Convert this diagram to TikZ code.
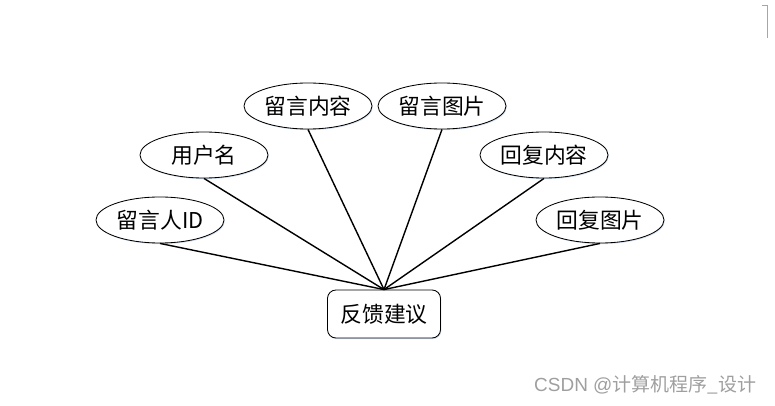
\documentclass[tikz,border=0pt]{standalone}
\usepackage{fontspec}
\usepackage{tikz}
\usetikzlibrary{shapes.geometric,shadows}
\setmainfont{Noto Sans CJK SC}
\newfontfamily\wmfont{Liberation Sans}
\definecolor{shadowblue}{RGB}{205,220,240}

\begin{document}
\begin{tikzpicture}[x=0.025cm,y=-0.025cm,
    attr/.style={draw,ellipse,line width=0.6pt,fill=white,
                 minimum width=3.2cm,minimum height=1.15cm,inner sep=1pt,
                 font=\fontsize{15.5}{18}\selectfont,
                 drop shadow={shadow xshift=0.6pt,shadow yshift=-0.8pt,
                              fill=shadowblue,opacity=0.8}},
    ent/.style={draw,rounded corners=6pt,line width=0.6pt,fill=white,
                minimum width=2.825cm,minimum height=1.2cm,
                font=\fontsize{15.5}{18}\selectfont,
                drop shadow={shadow xshift=0.6pt,shadow yshift=-0.8pt,
                             fill=shadowblue,opacity=0.8}},
    link/.style={line width=1pt},
  ]
    \useasboundingbox (0,0) rectangle (775,406);
    % attributes
    \node[attr](uid)  at (160,220){留言人ID};
    \node[attr](uname)at (204,155){用户名};
    \node[attr](msg)  at (308,106){留言内容};
    \node[attr](mimg) at (442,106){留言图片};
    \node[attr](rep)  at (544,155){回复内容};
    \node[attr](rimg) at (600,220){回复图片};
    % entity
    \node[ent](fb) at (384,314){反馈建议};
    \draw[link](uid.south)--(fb.north);
    \draw[link](uname.south)--(fb.north);
    \draw[link](msg.south)--(fb.north);
    \draw[link](mimg.south)--(fb.north);
    \draw[link](rep.south)--(fb.north);
    \draw[link](rimg.south)--(fb.north);
    % page corner mark
    \draw[gray!70,line width=0.5pt](762,5)--(767,5)--(767,38);
    % watermark
    \node[anchor=east,text=gray!75,font=\fontsize{13.5}{15}\selectfont](wm)
      at (761,385){{\wmfont CSDN @}计算机程序\_设计};
\end{tikzpicture}
\end{document}
